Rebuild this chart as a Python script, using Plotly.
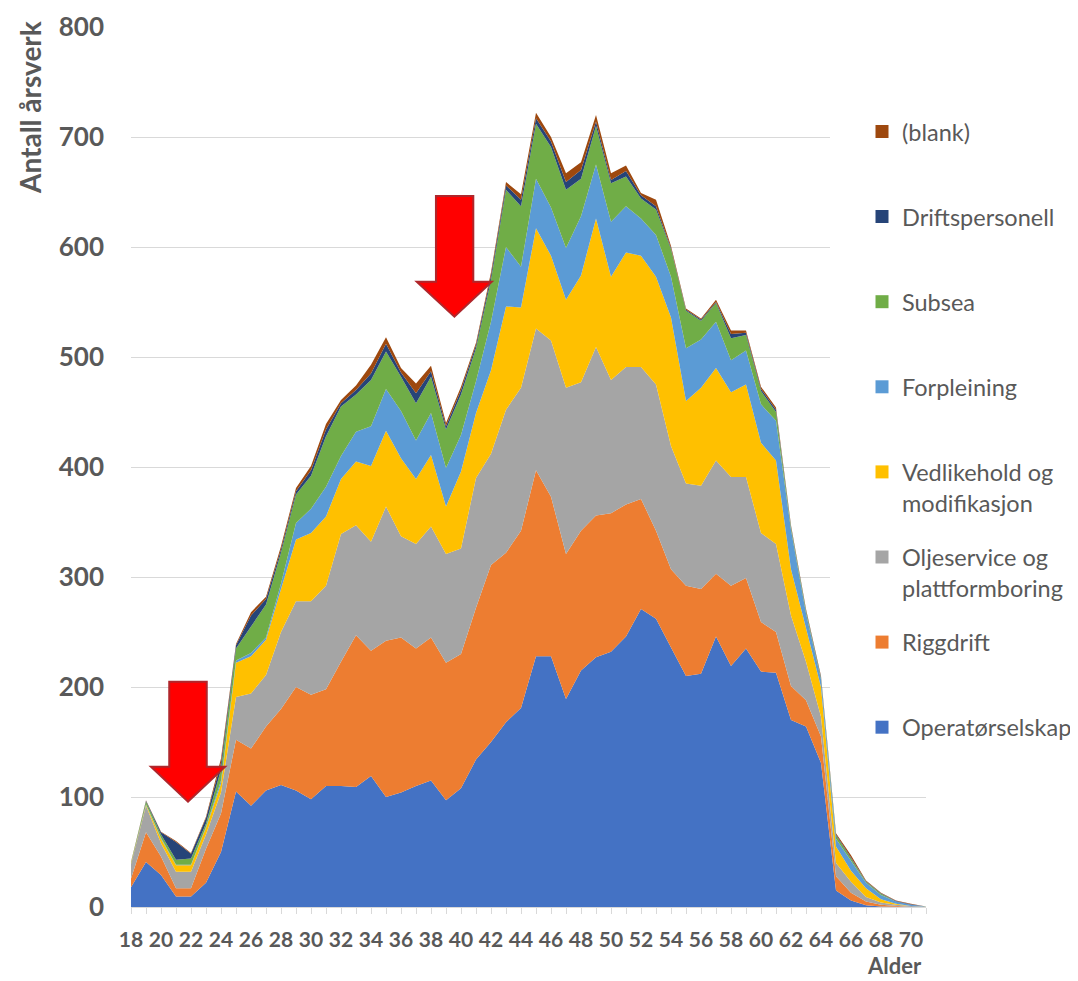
import plotly.graph_objects as go

ages = list(range(18, 72))

operatorselskap = [18, 41, 29, 9.5, 9.5, 22, 50, 105, 92, 106, 111, 106, 98, 110, 110, 109, 119, 100, 104, 110,
                   115, 97, 108, 134, 150, 168, 181, 228, 228, 189, 215, 227, 232, 246, 271, 262, 236, 210, 212, 246,
                   219, 235, 214, 213, 170, 164, 131, 15, 6, 1.5, 0.5, 0, 0, 0]
riggdrift = [8, 27, 17, 7.5, 7.5, 31, 35, 47, 52, 58, 69, 94, 95, 88, 113, 138, 114, 142, 141, 125,
             130, 125, 122, 138, 161, 154, 161, 169, 145, 132, 127, 129, 126, 120, 100, 80, 71, 82, 77, 57,
             73, 64, 45, 37, 31, 24, 24, 13, 7, 3.5, 1.5, 1, 0, 0]
oljeservice = [13, 24, 12, 15, 15, 13, 19, 39, 50, 47, 70, 78, 85, 94, 116, 100, 99, 122, 92, 95,
               101, 99, 96, 118, 101, 130, 130, 129, 142, 151, 135, 153, 121, 125, 120, 133, 112, 93, 94, 103,
               99, 92, 81, 80, 64, 35, 18, 12, 10, 4, 2, 1, 1, 0]
vedlikehold = [0.5, 1, 4, 6, 6, 6, 8, 31, 34, 32, 39, 56, 62, 63, 50, 58, 69, 69, 71, 59,
               65, 43, 70, 59, 76, 94, 73, 91, 77, 80, 97, 117, 94, 104, 101, 98, 117, 75, 89, 84,
               77, 84, 82, 76, 42, 31, 27, 15, 10, 8, 3, 1, 0, 0.2]
forpleining = [0, 0.5, 1, 0.5, 0.5, 1, 3, 2, 3, 2, 5, 15, 22, 27, 21, 27, 36, 38, 43, 35,
               38, 35, 33, 29, 44, 54, 37, 45, 44, 47, 54, 49, 50, 42, 34, 38, 37, 48, 44, 42,
               29, 31, 35, 36, 36, 13, 7, 7, 9, 5, 4, 2, 1, 0.3]
subsea = [1, 2.5, 3, 4.5, 5.5, 3, 10, 11, 24, 30, 28, 26, 30, 46, 45, 34, 42, 34, 31, 34,
          33, 35, 37, 30, 38, 52, 55, 50, 55, 53, 34, 35, 35, 27, 18, 23, 25, 34, 17, 17,
          20, 14, 12, 8, 2, 2, 1, 3, 2, 1, 1, 0, 0, 0]
driftspersonell = [0, 0.5, 2, 16, 4.5, 5, 6, 3, 10, 5, 3, 3, 5, 6, 3, 4, 6, 7, 4, 9,
                   5, 3, 4, 3, 4, 4, 6, 5, 5, 7, 8, 4, 3, 5, 3, 3, 1, 1, 1, 1,
                   4, 2, 2, 2, 1, 1, 1, 1, 1, 0.5, 0.5, 0.5, 0.5, 0]
blank = [0.5, 0.5, 0.5, 1, 0.5, 1, 4, 1, 3, 2, 3, 3, 4, 5, 3, 4, 8, 6, 4, 9,
         5, 3, 3, 2, 3, 3, 5, 5, 4, 8, 7, 6, 6, 5, 2, 6, 2, 1, 1, 2,
         3, 2, 2, 2, 1, 1, 1, 1, 2, 0.5, 0.5, 0.5, 0.5, 0]

series_names = ["Operatørselskap", "Riggdrift", "Oljeservice og plattformboring",
                "Vedlikehold og modifikasjon", "Forpleining", "Subsea", "Driftspersonell", "(blank)"]
legend_labels = ["Operatørselskap<br> ", "Riggdrift<br> ", "Oljeservice og<br>plattformboring",
                 "Vedlikehold og<br>modifikasjon", "Forpleining<br> ", "Subsea<br> ",
                 "Driftspersonell<br> ", "(blank)<br> "]
series_values = [operatorselskap, riggdrift, oljeservice, vedlikehold, forpleining, subsea,
                 driftspersonell, blank]
colors = ["#4472C4", "#ED7D31", "#A5A5A5", "#FFC000", "#5B9BD5", "#70AD47", "#264478", "#9E480E"]

x_ticks = list(range(18, 72, 2))

FONT = "Lato"
GREY = "#595959"

fig = go.Figure()
for name, vals, col in zip(series_names, series_values, colors):
    fig.add_trace(go.Scatter(
        x=ages, y=vals, name=name, mode="lines", stackgroup="one",
        line=dict(width=0, color=col), fillcolor=col, showlegend=False,
        hovertemplate=name + ": %{y}<extra></extra>"))

# legend entries (square markers), top to bottom as in the reference
for name, label, col in reversed(list(zip(series_names, legend_labels, colors))):
    fig.add_trace(go.Scatter(
        x=[None], y=[None], mode="markers", name=label, legendgroup=name,
        marker=dict(symbol="square", size=13, color=col), showlegend=True))

# red arrows (annotation-like shapes)
arrow1 = "M20.55,204.8 L23.05,204.8 L23.05,127.5 L24.27,127.5 L21.8,95.7 L19.33,127.5 L20.55,127.5 Z"
arrow2 = "M38.33,646.4 L40.82,646.4 L40.82,568.5 L42.05,568.5 L39.56,536.6 L37.05,568.5 L38.33,568.5 Z"

shapes = [
    dict(type="rect", xref="x", yref="y", x0=64.6, x1=71.5, y0=133, y1=805,
         fillcolor="white", line=dict(width=0), layer="between"),
    dict(type="path", xref="x", yref="y", path=arrow1, fillcolor="#FF0000",
         line=dict(color="#B0262B", width=2), layer="above"),
    dict(type="path", xref="x", yref="y", path=arrow2, fillcolor="#FF0000",
         line=dict(color="#B0262B", width=2), layer="above"),
]

fig.update_layout(
    width=1070, height=973,
    margin=dict(l=123, r=152, t=19, b=74, autoexpand=False),
    plot_bgcolor="white", paper_bgcolor="white",
    showlegend=True,
    legend=dict(
        x=0.9195, y=0.906, xanchor="left", yanchor="top",
        traceorder="grouped", tracegroupgap=21, valign="top",
        font=dict(family=FONT, size=23.5, color=GREY),
        bgcolor="rgba(0,0,0,0)", borderwidth=0, itemwidth=30,
    ),
    xaxis=dict(
        range=[18, 71], tickmode="array", tickvals=x_ticks, ticktext=[str(v) for v in x_ticks],
        ticks="outside", ticklen=6, tickcolor="#d9d9d9", showline=True, linecolor="#d9d9d9",
        linewidth=1, showgrid=False, zeroline=False, automargin=False,
        minor=dict(tickmode="linear", tick0=18, dtick=1, ticks="outside", ticklen=6,
                   tickcolor="#d9d9d9", showgrid=False),
        tickfont=dict(family=FONT, size=21, color=GREY, weight="bold"),
        ticklabelstandoff=8,
    ),
    yaxis=dict(
        range=[0, 800], tickmode="linear", tick0=0, dtick=100, automargin=False,
        showgrid=True, gridcolor="#d9d9d9", gridwidth=1, zeroline=False, showline=False,
        tickfont=dict(family=FONT, size=26, color=GREY, weight="bold"),
        ticklabelstandoff=26,
    ),
    shapes=shapes,
    annotations=[
        dict(text="Antall årsverk", xref="paper", yref="paper", x=-0.127, y=0.908,
             textangle=-90, showarrow=False, xanchor="center", yanchor="middle",
             font=dict(family=FONT, size=28, color=GREY, weight="bold")),
        dict(text="Alder", xref="paper", yref="paper", x=0.961, y=-0.0825,
             showarrow=False, xanchor="center", yanchor="bottom", borderpad=0,
             font=dict(family=FONT, size=22, color=GREY, weight="bold")),
    ],
)

fig.write_html("out.html")
